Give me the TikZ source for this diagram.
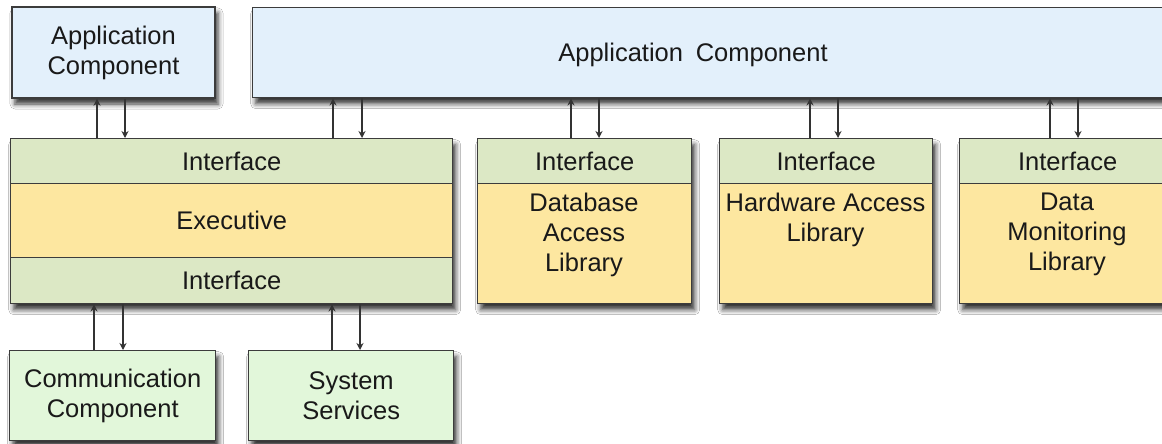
\documentclass[tikz,border=0pt]{standalone}
\usepackage{fontspec}
\setmainfont{Liberation Sans}
\usetikzlibrary{shadows.blur,arrows.meta}

\definecolor{appblue}{HTML}{E3F0FB}
\definecolor{ifgreen}{HTML}{DCE8C5}
\definecolor{libyellow}{HTML}{FDE7A0}
\definecolor{svcgreen}{HTML}{E2F7DA}
\definecolor{edge}{HTML}{3C3C3C}

\tikzset{
  blk/.style={draw=edge, line width=1.4pt, inner sep=0pt, align=center,
    font=\fontsize{25.5}{30}\selectfont, text=black!90},
  shadowed/.style={blur shadow={shadow xshift=3pt, shadow yshift=-6pt,
    shadow blur radius=5pt, shadow opacity=80}},
  link/.style={line width=1.5pt, draw=black!80},
  up/.style={link, -{Stealth[length=7pt,width=7pt]}},
  down/.style={link, -{Stealth[length=7pt,width=7pt]}},
  txt/.style={inner sep=0pt, align=center, font=\fontsize{25.5}{30}\selectfont,
    text=black!90},
}

\begin{document}
\begin{tikzpicture}[x=1pt, y=-1pt]
\clip (0,0) rectangle (1162,444);
\fill[white] (0,0) rectangle (1162,444);

% application components
\node[blk, shadowed, fill=appblue, minimum width=203, minimum height=91]
  (app1) at (113.5,52.5) {Application\\Component};
\node[blk, shadowed, fill=appblue, minimum width=923, minimum height=90,
  anchor=north west] (app2) at (252,7) {};
\node[txt] (app2t) at (693,55) {Application\hspace{0.5em}Component};

% executive stack
\node[blk, shadowed, fill=ifgreen, minimum width=442, minimum height=165,
  anchor=north west] (exec) at (10,138) {};
\node[blk, fill=ifgreen, minimum width=442, minimum height=45,
  anchor=north west] (exif1) at (10,138) {Interface};
\node[blk, fill=libyellow, minimum width=442, minimum height=74,
  anchor=north west] (excore) at (10,183) {Executive};
\node[blk, fill=ifgreen, minimum width=442, minimum height=46,
  anchor=north west] (exif2) at (10,257) {Interface};

% libraries
\foreach \nm/\x/\w in {db/477/214, hw/719/213, dm/959/216}{
  \node[blk, shadowed, fill=libyellow, minimum width=\w, minimum height=165,
    anchor=north west] (\nm) at (\x,138) {};
  \node[blk, fill=ifgreen, minimum width=\w, minimum height=45,
    anchor=north west] (\nm if) at (\x,138) {Interface};
}
\node[txt, anchor=north] (dbt) at (584,193) {Database\\Access\\Library};
\node[txt, anchor=north] (hwt) at (825.5,193) {Hardware Access\\Library};
\node[txt, anchor=north] (dmt) at (1067,193) {Data\\Monitoring\\Library};

% lower components
\node[blk, shadowed, fill=svcgreen, minimum width=206, minimum height=90,
  anchor=north west] (comm) at (9,350) {Communication\\Component};
\node[blk, shadowed, fill=svcgreen, minimum width=205, minimum height=90,
  anchor=north west] (sys) at (248,350) {System\\Services};

% connectors
\draw[up]   (exif1.north -| 97,0)  -- (app1.south -| 97,0);
\draw[down] (app1.south -| 125,0)  -- (exif1.north -| 125,0);
\draw[up]   (exif1.north -| 333,0) -- (app2.south -| 333,0);
\draw[down] (app2.south -| 362,0)  -- (exif1.north -| 362,0);
\draw[up]   (dbif.north -| 571,0)  -- (app2.south -| 571,0);
\draw[down] (app2.south -| 599,0)  -- (dbif.north -| 599,0);
\draw[up]   (hwif.north -| 810,0)  -- (app2.south -| 810,0);
\draw[down] (app2.south -| 838,0)  -- (hwif.north -| 838,0);
\draw[up]   (dmif.north -| 1050,0) -- (app2.south -| 1050,0);
\draw[down] (app2.south -| 1078,0) -- (dmif.north -| 1078,0);
\draw[up]   (comm.north -| 94,0)   -- (exif2.south -| 94,0);
\draw[down] (exif2.south -| 123,0) -- (comm.north -| 123,0);
\draw[up]   (sys.north -| 332,0)   -- (exif2.south -| 332,0);
\draw[down] (exif2.south -| 360,0) -- (sys.north -| 360,0);
\end{tikzpicture}
\end{document}
